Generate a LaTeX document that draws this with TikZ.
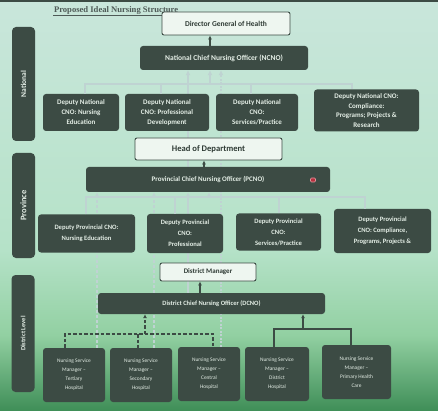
\documentclass[tikz,border=0pt]{standalone}
\usepackage{fontspec}
\setmainfont{Carlito}
\newfontfamily\titlefont{Liberation Serif}
\usetikzlibrary{arrows.meta,calc}
\pgfdeclarelayer{back}
\pgfdeclarelayer{mid}
\pgfsetlayers{back,mid,main}
\definecolor{bgA}{HTML}{C9E6DB}
\definecolor{bgB}{HTML}{B5E2C8}
\definecolor{bgC}{HTML}{92D0A2}
\definecolor{bgD}{HTML}{3F8E57}
\definecolor{boxc}{HTML}{3C4B44}
\definecolor{boxt}{HTML}{E4EEE6}
\definecolor{wbg}{HTML}{EEF6F0}
\definecolor{wtxt}{HTML}{2E3A34}
\definecolor{lightl}{HTML}{BFD3D2}
\definecolor{titlec}{HTML}{4E5A57}
\definecolor{dotc}{HTML}{B8303E}
\tikzset{
  dbox/.style={fill=boxc, rounded corners=3pt, text=boxt, align=center, inner sep=1pt,
    font=\fontsize{7}{10}\selectfont\bfseries},
  pbox/.style={dbox, font=\fontsize{6.6}{11}\selectfont\bfseries},
  nsm/.style={dbox, font=\fontsize{5.4}{9}\selectfont, minimum width=62, minimum height=54},
  wbox/.style={draw=boxc, line width=0.9pt, fill=wbg, rounded corners=2pt, text=wtxt,
    inner sep=1pt, font=\fontsize{7.5}{9}\selectfont\bfseries},
  bar/.style={fill=boxc, rounded corners=4pt, inner sep=0pt, text=boxt, minimum width=23},
  lbus/.style={draw=lightl, line width=1.3pt},
  larrow/.style={lbus, -{Latex[length=5pt,width=5pt]}},
  ldash/.style={lbus, dash pattern=on 3pt off 2pt, -{Latex[length=5pt,width=5pt]}},
  ldot/.style={lbus, line width=1.1pt, dash pattern=on 2pt off 1.5pt, -{Latex[length=5pt,width=5pt]}},
  darrow/.style={draw=boxc, line width=1.3pt, -{Latex[length=4pt,width=4pt]}},
  dline/.style={draw=boxc, line width=1.3pt},
  ddash/.style={draw=boxc, line width=1.6pt, dash pattern=on 3.5pt off 2pt},
}
\begin{document}
\begin{tikzpicture}[x=1pt,y=-1pt]
\useasboundingbox (0,0) rectangle (438,411);
\begin{pgfonlayer}{back}
  \shade[top color=bgA, bottom color=bgB] (0,0) rectangle (438,250);
  \shade[top color=bgB, bottom color=bgC] (0,250) rectangle (438,335);
  \shade[top color=bgC, bottom color=bgD] (0,335) rectangle (438,411);
  \fill[boxc] (0,0) rectangle (438,2);
\end{pgfonlayer}

% title
\node[font=\titlefont\bfseries\fontsize{8.6}{10}\selectfont, text=titlec, anchor=west, inner sep=0.8pt] (title) at (53,10) {Proposed Ideal Nursing Structure};
\draw[titlec, line width=0.6pt] (title.south west) -- (title.south east);

% side bars
\node[bar, minimum height=114] (barN) at (23.5,84) {\rotatebox{90}{\fontsize{7.5}{9}\selectfont\bfseries National}};
\node[bar, minimum height=105] (barP) at (23.5,205.5) {\rotatebox{90}{\fontsize{8.5}{9}\selectfont\bfseries Province}};
\node[bar, minimum height=117] (barD) at (23,333.5) {\rotatebox{90}{\fontsize{6.5}{9}\selectfont\bfseries District Level}};

% national
\node[wbox, minimum width=128, minimum height=23] (dg) at (226,23.5) {Director General of Health};
\node[dbox, minimum width=168, minimum height=24, font=\fontsize{7.5}{9}\selectfont\bfseries] (ncno) at (224,58) {National Chief Nursing Officer (NCNO)};
\node[dbox, minimum width=76, minimum height=37] (nne) at (81,112.5) {Deputy National\\CNO: Nursing\\Education};
\node[dbox, minimum width=84, minimum height=37] (npd) at (167,112.5) {Deputy National\\CNO: Professional\\Development};
\node[dbox, minimum width=82, minimum height=37] (nsp) at (257,112.5) {Deputy National\\CNO:\\Services/Practice};
\node[dbox, minimum width=105, minimum height=42, font=\fontsize{7}{9.5}\selectfont\bfseries] (ncp) at (366.5,110.5) {Deputy National CNO:\\Compliance:\\Programs; Projects \&\\Research};

% province
\node[wbox, minimum width=147, minimum height=22, font=\fontsize{8.6}{10}\selectfont\bfseries] (hod) at (208.5,149) {Head of Department};
\node[dbox, minimum width=244, minimum height=25] (pcno) at (208,179.5) {Provincial Chief Nursing Officer (PCNO)};
\node[fill=dotc, draw=dotc!50!white, line width=0.6pt, rounded corners=1pt, minimum width=5, minimum height=4, inner sep=0pt] (dot) at (313,180) {};
\node[pbox, minimum width=97, minimum height=38] (pne) at (86.5,233.5) {Deputy Provincial CNO:\\Nursing Education};
\node[pbox, minimum width=76, minimum height=39] (ppr) at (185,233.5) {Deputy Provincial\\CNO:\\Professional};
\node[pbox, minimum width=85, minimum height=37] (psp) at (278.5,232) {Deputy Provincial\\CNO:\\Services/Practice};
\node[pbox, minimum width=97, minimum height=44] (pcp) at (382.5,231) {Deputy Provincial\\CNO: Compliance,\\Programs, Projects \&};

% district
\node[wbox, minimum width=96, minimum height=18, font=\fontsize{7}{9}\selectfont\bfseries] (dm) at (208,272) {District Manager};
\node[dbox, minimum width=227, minimum height=21, font=\fontsize{6.5}{9}\selectfont\bfseries] (dcno) at (211.5,303.5) {District Chief Nursing Officer (DCNO)};
\node[nsm] (tert) at (74,375) {Nursing Service\\Manager --\\Tertiary\\Hospital};
\node[nsm] (sec) at (141,375) {Nursing Service\\Manager --\\Secondary\\Hospital};
\node[nsm] (cen) at (209,374) {Nursing Service\\Manager --\\Central\\Hospital};
\node[nsm, minimum width=64] (dis) at (277,374) {Nursing Service\\Manager --\\District\\Hospital};
\node[nsm, minimum width=69] (phc) at (356.5,372) {Nursing Service\\Manager --\\Primary Health\\Care};

% x positions
\coordinate (xA) at (210,0);
\coordinate (xB) at (204,0);
\coordinate (xC) at (200,0);
\coordinate (xL1) at (188,0);
\coordinate (xL2) at (221,0);
\coordinate (xD1) at (97,0);
\coordinate (xD2) at (154,0);
\coordinate (nbusL) at (85,84);
\coordinate (nbusR) at (352,84);
\coordinate (pbusL) at (86,197);
\coordinate (pbusR) at (365,197);
\coordinate (dbusL) at (65,334);
\coordinate (dbusR) at (213,334);
\coordinate (dbusU) at (138,334);
\coordinate (dbusM) at (145,334);
\coordinate (sbusL) at (274,329);
\coordinate (sbusR) at (351,329);
\coordinate (sbusM) at (303,329);

% light lines passing behind boxes
\begin{pgfonlayer}{mid}
  \draw[larrow] (xL1 |- dcno.north) -- (xL1 |- pcno.south);
  \draw[larrow] (xL1 |- pcno.north) -- (xL1 |- ncno.south);
  \draw[ldot] (xL2 |- cen.north) -- (xL2 |- ncno.south);
  \draw[ldash] (xD1 |- tert.north) -- (xD1 |- pcno.south);
  \draw[ldash] (xD2 |- sec.north) -- (xD2 |- pcno.south);
\end{pgfonlayer}

% national bus
\draw[lbus] (nbusL |- nne.north) -- (nbusL) -- (nbusR) -- (nbusR |- ncp.north);
\draw[lbus] (npd.north -| 161,0) -- (161,84);
\draw[lbus] (nsp.north -| 251,0) -- (251,84);
\draw[larrow] (xA |- nbusL) -- (xA |- ncno.south);
\draw[darrow] (xA |- ncno.north) -- (xA |- dg.south);

% provincial bus
\draw[lbus] (pbusL |- pne.north) -- (pbusL) -- (pbusR) -- (pbusR |- pcp.north);
\draw[lbus] (ppr.north -| 175,0) -- (175,197);
\draw[lbus] (psp.north -| 279,0) -- (279,197);
\draw[larrow] (209,197) -- (pcno.south -| 209,0);
\draw[darrow] (xB |- pcno.north) -- (xB |- hod.south);

% district
\draw[darrow] (xC |- dcno.north) -- (xC |- dm.south);
\draw[ddash] (dbusL |- tert.north) -- (dbusL) -- (dbusR) -- (dbusR |- cen.north);
\draw[ddash] (dbusU) -- (dbusU |- sec.north);
\draw[ddash, -{Latex[length=4pt,width=4pt]}] (dbusM) -- (dbusM |- dcno.south);
\draw[dline] (sbusL |- dis.north) -- (sbusL) -- (sbusR) -- (sbusR |- phc.north);
\draw[darrow] (sbusM) -- (sbusM |- dcno.south);
\end{tikzpicture}
\end{document}
